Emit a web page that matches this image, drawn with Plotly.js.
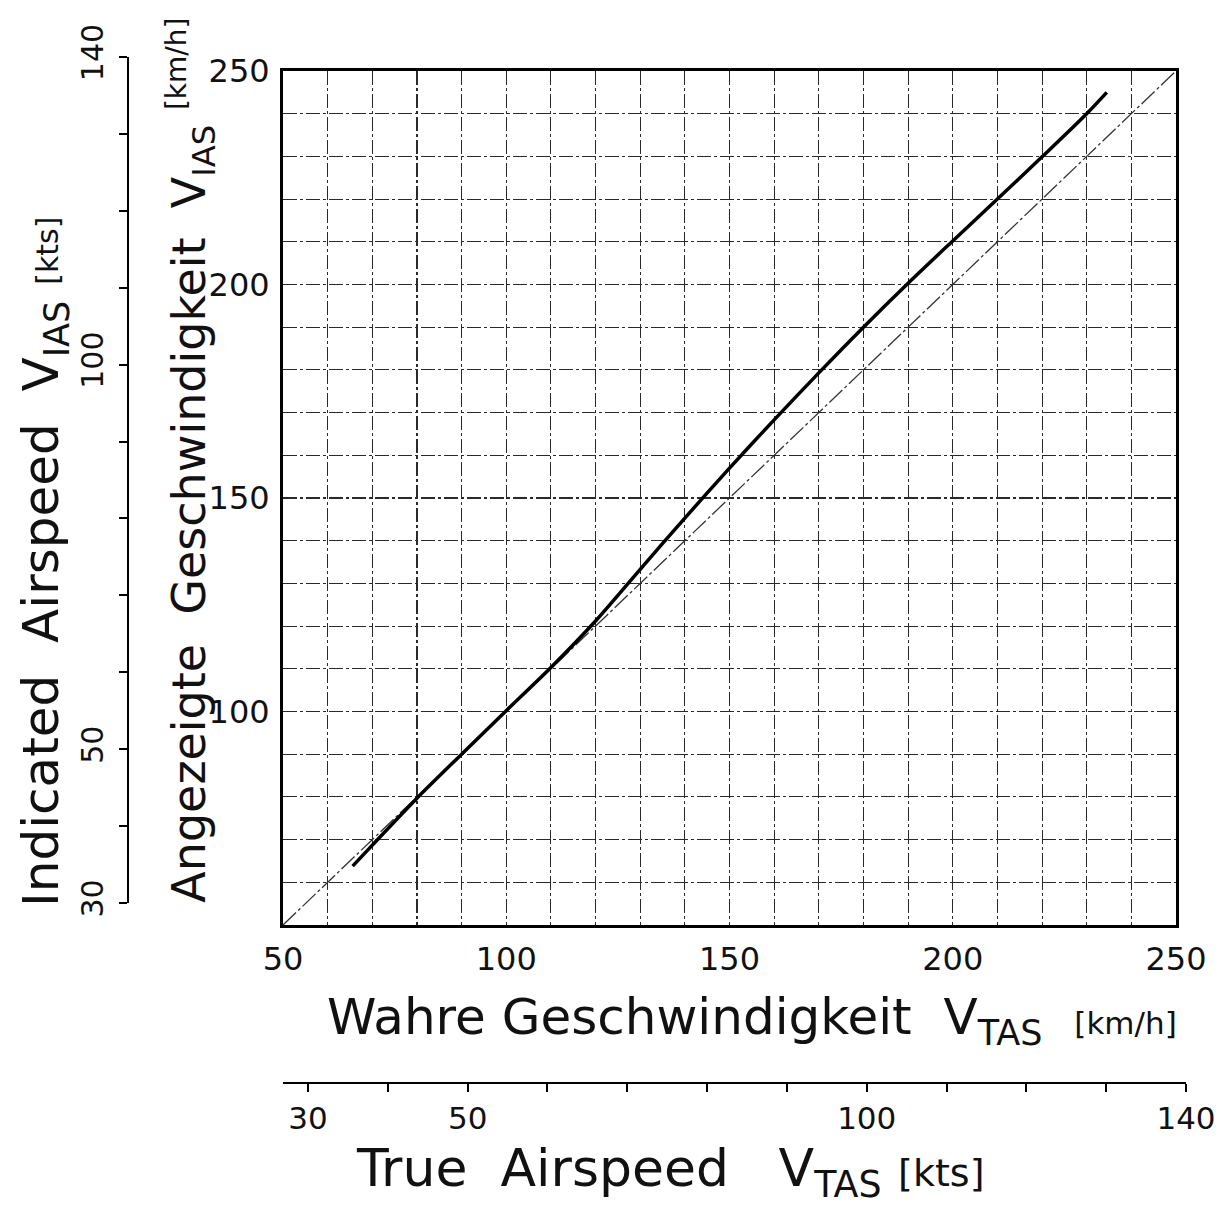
<!DOCTYPE html>
<html>
<head>
<meta charset="utf-8">
<script src="https://cdn.plot.ly/plotly-3.0.1.min.js"></script>
<style>html,body{margin:0;padding:0;background:#fff;}</style>
</head>
<body>
<div id="chart" style="width:1231px;height:1207px;"></div>
<script>
// ---- data ----
// thick curve: indicated airspeed vs true airspeed (km/h)
const vTasKmh = [65.6, 70, 80, 90, 100, 110, 120, 130, 140, 150, 160, 170, 180, 190, 200, 210, 220, 230, 234.5];
const vIasKmh = [63.8, 68.7, 79.7, 90, 100.2, 110.3, 121.2, 133.3, 145.3, 157, 168.3, 179.3, 190, 200.3, 210.2, 220, 229.9, 240, 245];
// thin reference line V_IAS = V_TAS
const refTas = [50, 250];
const refIas = [50, 250];

// tick values / labels
const kmhTickVals = [50,60,70,80,90,100,110,120,130,140,150,160,170,180,190,200,210,220,230,240,250];
const xLabelled = [50, 100, 150, 200, 250];
const yLabelled = [100, 150, 200, 250];
const ktsTickVals = [30,40,50,60,70,80,90,100,110,120,130,140];
const ktsLabelled = [30, 50, 100, 140];

const xTickText = kmhTickVals.map(v => xLabelled.includes(v) ? String(v) : '');
const yTickText = kmhTickVals.map(v => yLabelled.includes(v) ? String(v) : '');
const ktsTickText = ktsTickVals.map(v => ktsLabelled.includes(v) ? String(v) : '');

const FONT = 'DejaVu Sans, sans-serif';
const gridDash = '14px,3px,3px,3px';

const traces = [
  {
    x: refTas, y: refIas, type: 'scatter', mode: 'lines',
    line: {color: '#333', width: 1.3, dash: '18px,3px,3px,3px'},
    xaxis: 'x', yaxis: 'y', hoverinfo: 'skip'
  },
  {
    x: vTasKmh, y: vIasKmh, type: 'scatter', mode: 'lines',
    line: {color: '#000', width: 3.5, shape: 'spline', smoothing: 0.8},
    xaxis: 'x', yaxis: 'y', hoverinfo: 'skip'
  },
  {
    x: [], y: [], type: 'scatter', mode: 'lines',
    xaxis: 'x2', yaxis: 'y2', hoverinfo: 'skip'
  }
];

const mainAxis = {
  range: [50, 250],
  tickmode: 'array',
  tickvals: kmhTickVals,
  ticks: '',
  showgrid: true,
  gridcolor: '#2a2a2a',
  gridwidth: 1.1,
  griddash: gridDash,
  zeroline: false,
  showline: true,
  linecolor: '#000',
  linewidth: 3,
  mirror: true,
  tickfont: {family: FONT, size: 32, color: '#111'},
  fixedrange: true
};

const layout = {
  width: 1231,
  height: 1207,
  margin: {l: 100, r: 40, t: 40, b: 100},
  paper_bgcolor: '#fff',
  plot_bgcolor: 'rgba(0,0,0,0)',
  showlegend: false,
  font: {family: FONT, color: '#111'},
  xaxis: Object.assign({}, mainAxis, {
    domain: [0.16774, 0.98625],
    anchor: 'y',
    ticktext: xTickText,
    ticklabelstandoff: 4
  }),
  yaxis: Object.assign({}, mainAxis, {
    domain: [0.17057, 0.97095],
    anchor: 'x',
    ticktext: yTickText,
    ticklabelstandoff: 4
  }),
  xaxis2: {
    domain: [0.16774, 0.99542],
    range: [26.87, 140],
    anchor: 'free',
    position: 0.02249,
    side: 'bottom',
    tickmode: 'array',
    tickvals: ktsTickVals,
    ticktext: ktsTickText,
    ticks: 'outside',
    ticklen: 8,
    tickwidth: 2,
    tickcolor: '#000',
    showline: true,
    linecolor: '#000',
    linewidth: 2,
    showgrid: false,
    zeroline: false,
    ticklabelstandoff: 0,
    tickfont: {family: FONT, size: 31, color: '#111'},
    fixedrange: true
  },
  yaxis2: {
    domain: [0.19119, 0.98407],
    range: [30, 140],
    anchor: 'free',
    position: 0.02566,
    side: 'left',
    tickmode: 'array',
    tickvals: ktsTickVals,
    ticktext: ktsTickText,
    ticks: 'outside',
    ticklen: 8,
    tickwidth: 2,
    tickcolor: '#000',
    tickangle: -90,
    showline: true,
    linecolor: '#000',
    linewidth: 2,
    showgrid: false,
    zeroline: false,
    ticklabelstandoff: 4,
    tickfont: {family: FONT, size: 30, color: '#111'},
    fixedrange: true
  },
  annotations: [
    {
      xref: 'paper', yref: 'paper',
      x: 0.5975, y: 0.0815, xanchor: 'center', yanchor: 'middle',
      showarrow: false,
      text: 'Wahre Geschwindigkeit  V<sub>TAS</sub>  <span style="font-size:31px">[km/h]</span>',
      font: {family: FONT, size: 50, color: '#111'}
    },
    {
      xref: 'paper', yref: 'paper',
      x: 0.5225, y: -0.061, xanchor: 'center', yanchor: 'middle',
      showarrow: false, borderpad: 0,
      text: 'True  Airspeed   V<sub>TAS</sub> <span style="font-size:38px">[kts]</span>',
      font: {family: FONT, size: 52, color: '#111'}
    },
    {
      xref: 'paper', yref: 'paper',
      x: 0.0841, y: 0.6064, xanchor: 'center', yanchor: 'middle',
      showarrow: false, textangle: -90,
      text: 'Angezeigte  Geschwindigkeit  V<sub>IAS</sub> <sup><span style="font-size:28px">[km/h]</span></sup>',
      font: {family: FONT, size: 46, color: '#111'}
    },
    {
      xref: 'paper', yref: 'paper',
      x: -0.0504, y: 0.5108, xanchor: 'center', yanchor: 'middle',
      showarrow: false, textangle: -90,
      text: 'Indicated  Airspeed  V<sub>IAS</sub> <span style="font-size:30px">[kts]</span>',
      font: {family: FONT, size: 50, color: '#111'}
    }
  ]
};

Plotly.newPlot('chart', traces, layout, {staticPlot: true, displayModeBar: false});
</script>
</body>
</html>
